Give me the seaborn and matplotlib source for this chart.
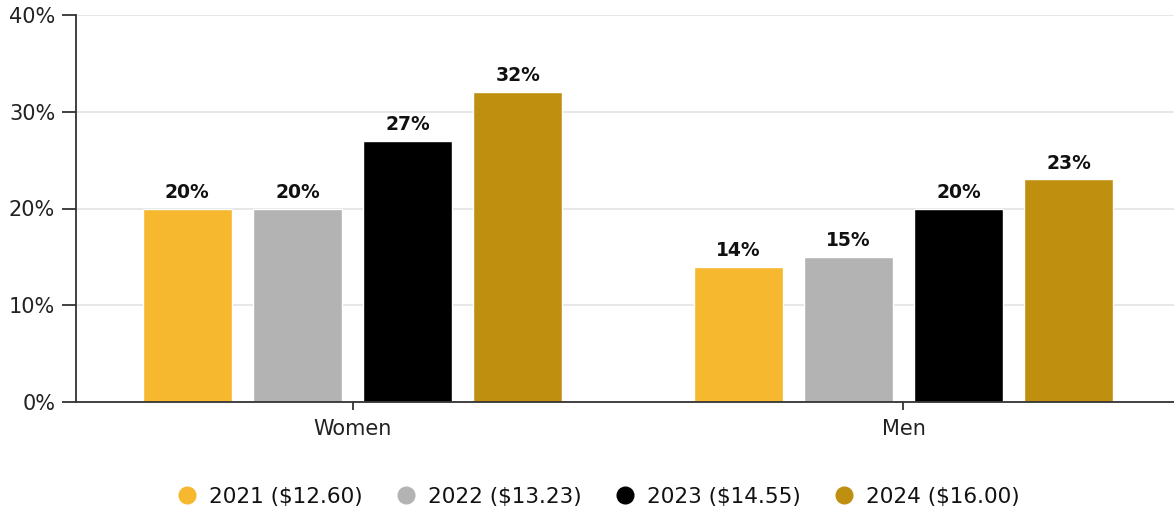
import matplotlib
matplotlib.use("Agg")
import matplotlib.pyplot as plt
import seaborn as sns
import pandas as pd
from matplotlib.ticker import FuncFormatter
from matplotlib.lines import Line2D

categories = ["Women", "Men"]
years = ["2021 ($12.60)", "2022 ($13.23)", "2023 ($14.55)", "2024 ($16.00)"]
v2021 = [20, 14]
v2022 = [20, 15]
v2023 = [27, 20]
v2024 = [32, 23]
colors = ["#F5B82E", "#B3B3B3", "#000000", "#BF8F10"]

rows = []
for yr, vals in zip(years, [v2021, v2022, v2023, v2024]):
    for c, v in zip(categories, vals):
        rows.append({"group": c, "year": yr, "value": v})
df = pd.DataFrame(rows)

sns.set_style("white")
plt.rcParams["font.family"] = ["DejaVu Sans"]

fig = plt.figure(figsize=(11.74, 5.14), dpi=100)
ax = fig.add_axes([76/1174, 1-402/514, 1-76/1174, (402-15)/514])

sns.barplot(data=df, x="group", y="value", hue="year", order=categories,
            hue_order=years, palette=colors, width=0.8, gap=0.19,
            saturation=1, ax=ax, legend=False, err_kws={"linewidth": 0})

for cont in ax.containers:
    ax.bar_label(cont, fmt="{:.0f}%", padding=5, fontsize=13.5,
                 fontweight="bold", color="#111111")

ax.set_ylim(0, 40)
ax.set_xlim(-0.502, 1.491)
ax.set_yticks([0, 10, 20, 30, 40])
ax.yaxis.set_major_formatter(FuncFormatter(lambda x, p: f"{x:.0f}%"))
ax.grid(axis="y", color="#E3E3E3", linewidth=1.2)
ax.set_axisbelow(True)
for s in ["top", "right"]:
    ax.spines[s].set_visible(False)
for s in ["left", "bottom"]:
    ax.spines[s].set_color("#333333")
    ax.spines[s].set_linewidth(1.3)
ax.tick_params(axis="y", length=10, width=1.3, color="#333333",
               labelsize=15, labelcolor="#222222", pad=5, left=True)
ax.tick_params(axis="x", length=6, width=1.3, color="#333333",
               labelsize=15, labelcolor="#222222", pad=6, bottom=True)
ax.set_xlabel("")
ax.set_ylabel("")

handles = [Line2D([0], [0], marker="o", linestyle="", markersize=12,
                  markerfacecolor=c, markeredgecolor=c) for c in colors]
fig.legend(handles, years, loc="center", bbox_to_anchor=(0.5047, 1-497/514),
           ncol=4, frameon=False, fontsize=15.5, handletextpad=0.05,
           columnspacing=0.98, labelcolor="#111111")

fig.savefig("out.png", dpi=100)
